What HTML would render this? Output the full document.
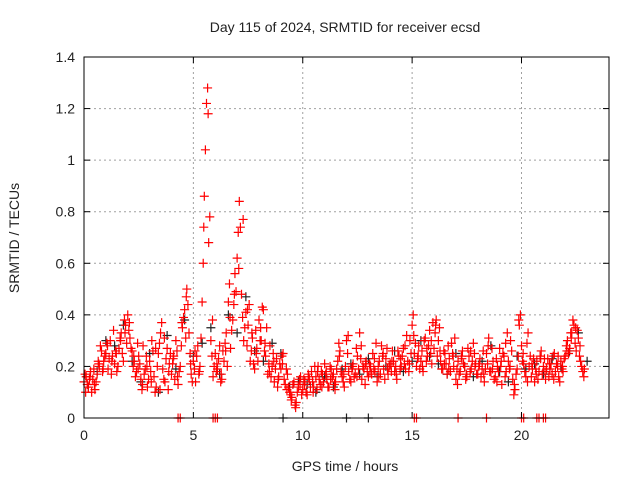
<!DOCTYPE html>
<html><head><meta charset="utf-8"><style>
body{margin:0;background:#fff}
svg text{font-family:"Liberation Sans",sans-serif;font-size:14px;fill:#222}
</style></head><body>
<svg id="c" width="640" height="480">
<text x="345" y="32" text-anchor="middle">Day 115 of 2024, SRMTID for receiver ecsd</text>
<text x="345" y="471" text-anchor="middle">GPS time / hours</text>
<text transform="translate(19,238) rotate(-90)" text-anchor="middle">SRMTID / TECUs</text>
<g id="grid"></g><g id="blk"></g><g id="red"></g><g id="axes"></g>
</svg>
<script>
const xTicks=[0,5,10,15,20];
const yTicks=[0,0.2,0.4,0.6,0.8,1,1.2,1.4];
const yTickLabels=["0","0.2","0.4","0.6","0.8","1","1.2","1.4"];
const redA=[0.14,0.16,0.12,0.18,0.15,0.11,0.17,0.20,0.26,0.22,
0.25,0.19,0.30,0.24,0.21,0.18,0.27,0.33,0.22,0.36,
0.40,0.31,0.26,0.22,0.18,0.24,0.15,0.28,0.19,0.12,
0.22,0.30,0.16,0.12,0.25,0.33,0.19,0.14,0.27,0.21,
0.17,0.24,0.30,0.13,0.20,0.35,0.42,0.50,0.33,0.17,
0.22,0.14,0.28,0.20,0.45,0.86,1.22,0.68,0.30,0.16,
0.25,0.19,0.28,0.15,0.22,0.33,0.45,0.27,0.38,0.56,
0.62,0.84,0.48,0.30,0.41,0.36,0.22,0.31,0.19,0.27,
0.38,0.30,0.42,0.24,0.17,0.28,0.20,0.14,0.23,0.16,
0.19,0.25,0.13,0.17,0.10,0.08,0.14,0.06,0.12,0.16,
0.11,0.14,0.09,0.15,0.18,0.12,0.16,0.20,0.13,0.17,
0.21,0.15,0.12,0.19,0.17,0.14,0.22,0.26,0.16,0.12,
0.30,0.18,0.14,0.21,0.17,0.24,0.33,0.15,0.19,0.22,
0.16,0.20,0.25,0.18,0.14,0.22,0.28,0.19,0.23,0.17,
0.21,0.26,0.18,0.15,0.24,0.20,0.27,0.19,0.22,0.30,
0.36,0.25,0.20,0.28,0.22,0.18,0.31,0.24,0.34,0.21,
0.27,0.38,0.30,0.22,0.19,0.25,0.17,0.23,0.29,0.20,
0.15,0.22,0.18,0.26,0.20,0.16,0.24,0.19,0.29,0.21,
0.17,0.23,0.19,0.14,0.25,0.31,0.18,0.22,0.16,0.20,
0.27,0.13,0.24,0.18,0.22,0.30,0.15,0.11,0.19,0.36,
0.28,0.21,0.16,0.33,0.24,0.19,0.14,0.22,0.18,0.26,
0.20,0.15,0.23,0.19,0.17,0.25,0.21,0.16,0.22,0.18,
0.24,0.30,0.27,0.33,0.36,0.26,0.31,0.22,0.18];
const redB=[0.17,0.13,0.15,0.10,0.19,0.14,0.22,0.28,0.18,0.24,
0.29,0.23,0.17,0.34,0.26,0.20,0.31,0.25,0.38,0.29,
0.34,0.27,0.20,0.16,0.29,0.21,0.11,0.17,0.24,0.15,
0.18,0.26,0.10,0.20,0.29,0.37,0.15,0.23,0.11,0.25,
0.21,0.15,0.26,0.18,0.28,0.39,0.31,0.44,0.25,0.14,
0.19,0.24,0.17,0.31,0.60,1.04,1.28,0.78,0.24,0.20,
0.18,0.23,0.14,0.26,0.29,0.20,0.52,0.34,0.44,0.49,
0.72,0.74,0.39,0.35,0.28,0.44,0.26,0.21,0.34,0.22,
0.30,0.43,0.26,0.35,0.21,0.16,0.25,0.19,0.12,0.21,
0.24,0.15,0.19,0.12,0.09,0.13,0.05,0.10,0.15,0.09,
0.15,0.10,0.17,0.12,0.14,0.20,0.11,0.15,0.18,0.14,
0.17,0.12,0.20,0.16,0.13,0.19,0.29,0.18,0.14,0.20,
0.25,0.15,0.19,0.16,0.27,0.19,0.23,0.20,0.13,0.18,
0.21,0.17,0.19,0.29,0.20,0.17,0.24,0.15,0.27,0.20,
0.18,0.22,0.20,0.26,0.19,0.24,0.21,0.32,0.18,0.25,
0.40,0.29,0.23,0.19,0.26,0.30,0.22,0.28,0.25,0.37,
0.33,0.24,0.35,0.19,0.26,0.21,0.28,0.18,0.25,0.31,
0.19,0.17,0.24,0.21,0.15,0.27,0.18,0.22,0.25,0.17,
0.20,0.16,0.26,0.19,0.21,0.18,0.27,0.15,0.23,0.18,
0.20,0.25,0.16,0.33,0.19,0.26,0.09,0.17,0.24,0.40,
0.22,0.18,0.29,0.20,0.16,0.23,0.19,0.15,0.24,0.17,
0.23,0.19,0.16,0.21,0.24,0.18,0.20,0.14,0.19,0.23,
0.28,0.25,0.33,0.38,0.29,0.34,0.24,0.20,0.16];
const redC=[0.10,0.16,0.13,0.21,0.19,0.28,0.22,0.25,0.30,0.33,
0.37,0.24,0.19,0.13,0.20,0.14,0.27,0.11,0.31,0.18,
0.23,0.16,0.37,0.47,0.21,0.26,0.18,0.74,1.18,0.38,
0.21,0.17,0.26,0.39,0.48,0.58,0.77,0.42,0.33,0.25,
0.35,0.29,0.18,0.22,0.15,0.21,0.11,0.07,0.04,0.13,
0.13,0.16,0.10,0.18,0.12,0.18,0.15,0.11,0.24,0.17,
0.32,0.20,0.16,0.28,0.21,0.18,0.23,0.16,0.25,0.19,
0.22,0.17,0.23,0.28,0.21,0.32,0.24,0.20,0.27,0.30,
0.36,0.26,0.21,0.19,0.24,0.13,0.23,0.17,0.26,0.20,
0.21,0.17,0.28,0.19,0.14,0.22,0.29,0.20,0.13,0.38,
0.25,0.14,0.21,0.17,0.23,0.18,0.21,0.15,0.24,0.20,
0.26,0.31,0.35,0.28,0.19];
const black=[0.12,0.18,0.30,0.28,0.36,0.22,0.14,0.25,0.10,0.32,0.19,0.38,0.24,0.29,0.35,0.17,0.40,0.33,0.47,0.26,0.22,0.29,0.25,0.12,0.14,0.13,0.10,0.16,0.12,0.19,0.21,0.17,0.23,0.16,0.20,0.26,0.18,0.22,0.30,0.24,0.21,0.17,0.25,0.20,0.16,0.22,0.28,0.18,0.14,0.24,0.19,0.21,0.17,0.23,0.20,0.26,0.33,0.22];
const zeroTimes=[4.3,4.4,5.9,6.0,6.1,15.1,15.2,17.1,18.4,20.0,20.1,20.7,20.8,21.0,21.1];
const blackZeroTimes=[9.1,12.0,13.0];
const X0=84,X1=609,Y0=418,Y1=57,XMAX=24,YMAX=1.4;
const sx=v=>X0+(X1-X0)*v/XMAX, sy=v=>Y0-(Y0-Y1)*v/YMAX;
const NS="http://www.w3.org/2000/svg";
function mk(parent,tag,attrs){const e=document.createElementNS(NS,tag);for(const k in attrs)e.setAttribute(k,attrs[k]);parent.appendChild(e);return e;}
const grid=document.getElementById('grid'),axes=document.getElementById('axes');
const red=document.getElementById('red'),blk=document.getElementById('blk');
xTicks.forEach(t=>{const x=sx(t);
 if(t>0){const g=mk(grid,'line',{x1:x,x2:x,y1:Y1,y2:Y0,stroke:'#a0a0a0','stroke-dasharray':'2,3'});
 
 }
 mk(axes,'line',{x1:x,x2:x,y1:Y0,y2:Y0-6,stroke:'#000'});
 mk(axes,'line',{x1:x,x2:x,y1:Y1,y2:Y1+6,stroke:'#000'});
 const l=mk(axes,'text',{x:x,y:Y0+22,'text-anchor':'middle'});l.textContent=t;
 
 });
yTicks.forEach((t,i)=>{const y=sy(t);
 if(t>0&&t<YMAX){const g=mk(grid,'line',{x1:X0,x2:X1,y1:y,y2:y,stroke:'#a0a0a0','stroke-dasharray':'2,3'});
 
 }
 mk(axes,'line',{x1:X0,x2:X0+6,y1:y,y2:y,stroke:'#000'});
 mk(axes,'line',{x1:X1,x2:X1-6,y1:y,y2:y,stroke:'#000'});
 const l=mk(axes,'text',{x:X0-9,y:y+5,'text-anchor':'end'});l.textContent=yTickLabels[i];
 
 });
const fr=mk(axes,'rect',{x:X0,y:Y1,width:X1-X0,height:Y0-Y1,fill:'none',stroke:'#000'});


function plus(g,t,v,c,name){const x=sx(t),y=sy(v);
 const p=mk(g,'path',{d:`M${x-4.5} ${y}h9M${x} ${y-4.5}v9`,stroke:c,'stroke-width':1.2,fill:'none'});
 
 }
black.forEach((v,i)=>plus(blk,i*0.4+0.2,v,'#222','black-point'));
blackZeroTimes.forEach(t=>plus(blk,t,0,'#222','black-zero-point'));
redA.forEach((v,i)=>plus(red,i*0.1,v,'#f00','red-point'));
redB.forEach((v,i)=>plus(red,i*0.1+0.05,v,'#f00','red-point'));
redC.forEach((v,i)=>plus(red,i*0.2+0.075,v,'#f00','red-point'));
zeroTimes.forEach(t=>plus(red,t,0,'#f00','red-zero-point'));
</script>
</body></html>
